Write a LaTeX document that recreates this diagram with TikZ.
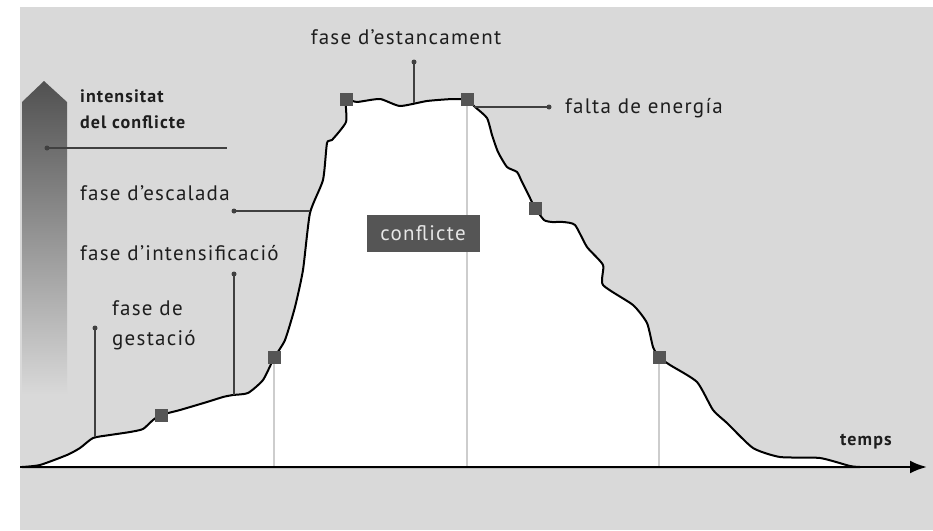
\documentclass[tikz,border=0pt]{standalone}
\usepackage{fontspec}
\setmainfont{PT Sans}[LetterSpace=6]
\usetikzlibrary{arrows.meta}
\definecolor{bggray}{HTML}{D9D9D9}
\definecolor{markgray}{HTML}{555555}
\definecolor{guidegray}{HTML}{CDCDCD}
\definecolor{leadgray}{HTML}{404040}
\definecolor{inkgray}{HTML}{1E1E1E}
\definecolor{boxtext}{HTML}{E6E6E6}
\begin{document}
\begin{tikzpicture}[x=1pt,y=-1pt,
		marker/.style={rectangle,fill=markgray,minimum size=13pt,inner sep=0pt},
		dot/.style={circle,fill=leadgray,minimum size=5pt,inner sep=0pt},
		leader/.style={leadgray,line width=1.2pt},
		guide/.style={guidegray,line width=1.5pt},
		phase/.style={anchor=base west,inner sep=0pt,text=inkgray,font=\fontsize{21}{24}\selectfont},
		strong/.style={phase,font=\fontsize{18}{20}\selectfont\bfseries}]
	\useasboundingbox (0,0) rectangle (933,530);
	\fill[white] (0,0) rectangle (933,530);
	\fill[bggray] (20,7) rectangle (933,530);
	% intensity arrow
	\shade[top color=markgray!95!black,middle color=markgray!50!bggray,bottom color=bggray,shading angle=0]
		(22,395) -- (22,102) -- (44,81) -- (67,102) -- (67,395) -- cycle;
	% the conflict curve
	\draw[line width=2pt,fill=white,line join=round] plot[smooth,tension=0.35] coordinates {
		(22,467) (40,465) (67,455) (80,448) (93,438) (110,435) (130,432) (143,429) (153,420) (161,415)
		(180,410) (207,402) (223,397) (233,395) (248,393) (263,380) (274,358) (285,340) (295,307)
		(303,270) (310,213) (323,180) (327,143) (332,140) (346,122) (346,100) (357,102) (380,99)
		(400,106) (427,101) (453,99) (467,100) (475,107) (487,118) (492,135) (498,152) (507,167)
		(517,172) (522,182) (530,198) (535,208) (544,220) (552,222) (563,222) (575,225) (587,247)
		(603,265) (603,285) (633,305) (647,323) (653,347) (659,357) (670,365) (697,382) (713,410)
		(727,423) (753,448) (780,457) (820,458) (850,466) (860,467)} -- cycle;
	\coordinate (o) at (20,467);
	\coordinate (tend) at (927,467);
	% phase markers
	\node[marker] (s1) at (161,415) {};
	\node[marker] (s2) at (274,357) {};
	\node[marker] (s3) at (346,99) {};
	\node[marker] (s4) at (467,99) {};
	\node[marker] (s5) at (535,208) {};
	\node[marker] (s6) at (659,357) {};
	\draw[guide] (s2.center) -- (s2.center |- o);
	\draw[guide] (s4.center) -- (s4.center |- o);
	\draw[guide] (s6.center) -- (s6.center |- o);
	\foreach \s in {s2,s4,s6}
		\node[marker] at (\s) {};
	\draw[line width=2.5pt,-{Latex[length=17pt,width=13pt]}] (o) -- (tend);
	% labels
	\node[strong] (int1) at (80,102) {intensitat};
	\node[strong] (int2) at (80,128) {del conflicte};
	\node[phase] (esc) at (80,200) {fase d’escalada};
	\node[phase] (ints) at (80,260) {fase d’intensificació};
	\node[phase] (ges1) at (112,315) {fase de};
	\node[phase] (ges2) at (112,345) {gestació};
	\node[phase,anchor=base] (est) at (406,44) {fase d’estancament};
	\node[phase] (fal) at (565,113) {falta de energía};
	\node[strong] (tmp) at (840,445) {temps};
	\node[rectangle,fill=markgray,minimum width=113pt,minimum height=37pt,text=boxtext,
		font=\fontsize{21}{24}\selectfont] (conf) at (423,233) {conflicte};
	% leader lines
	\node[dot] (d1) at (47,148) {};
	\node[dot] (d2) at (234,211) {};
	\node[dot] (d3) at (234,274) {};
	\node[dot] (d4) at (95,328) {};
	\node[dot] (d5) at (414,62) {};
	\node[dot] (d6) at (549,107) {};
	\coordinate (e1) at (227,148);
	\coordinate (e2) at (310,211);
	\coordinate (e3) at (234,395);
	\coordinate (e4) at (95,437);
	\coordinate (e5) at (414,103);
	\coordinate (e6) at (474,107);
	\draw[leader] (d1.center) -- (e1);
	\draw[leader] (d2.center) -- (e2);
	\draw[leader] (d3.center) -- (e3);
	\draw[leader] (d4.center) -- (e4);
	\draw[leader] (d5.center) -- (e5);
	\draw[leader] (d6.center) -- (e6);
\end{tikzpicture}
\end{document}
